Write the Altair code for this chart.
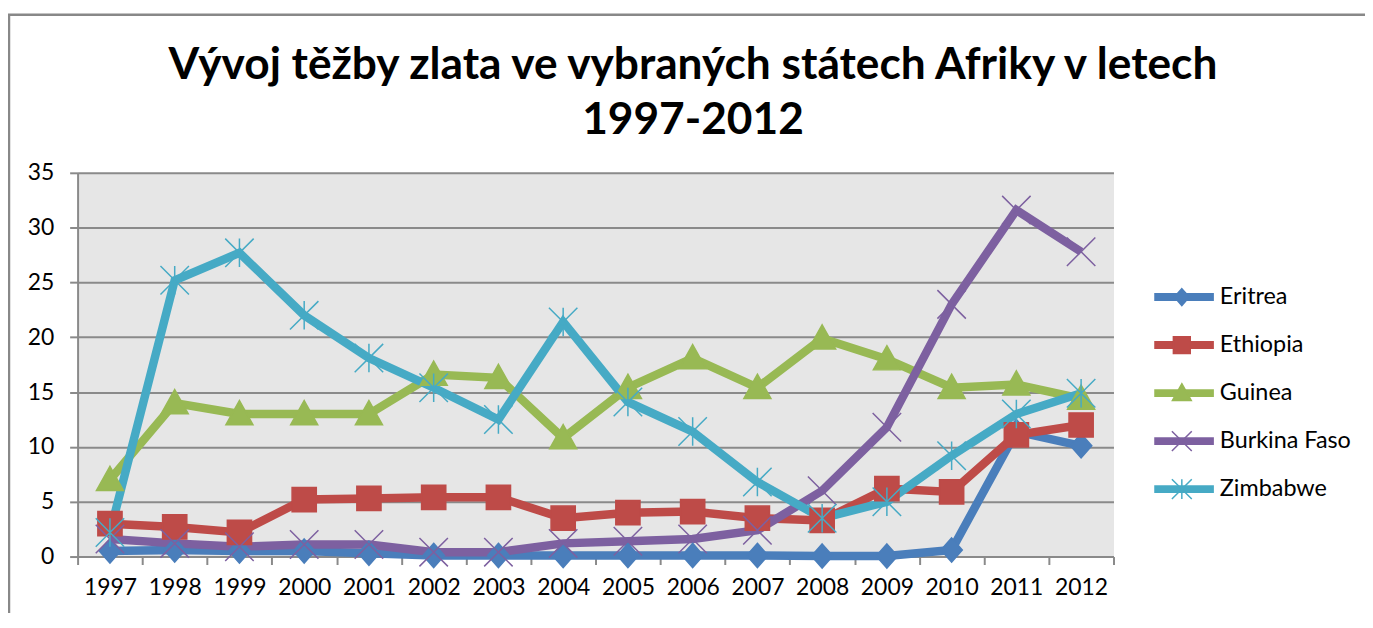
import altair as alt
import pandas as pd

years = ["1997", "1998", "1999", "2000", "2001", "2002", "2003", "2004",
         "2005", "2006", "2007", "2008", "2009", "2010", "2011", "2012"]
countries = ["Eritrea", "Ethiopia", "Guinea", "Burkina Faso", "Zimbabwe"]
marker_keys = ["m-Eritrea", "m-Ethiopia", "m-Guinea", "m-Burkina Faso", "m-Zimbabwe"]

eritrea = [0.5, 0.6, 0.5, 0.5, 0.3, 0.1, 0.1, 0.1, 0.1, 0.1, 0.1, 0.05, 0.05, 0.6, 11.4, 10.1]
ethiopia = [3.0, 2.7, 2.2, 5.2, 5.3, 5.4, 5.4, 3.5, 4.0, 4.1, 3.5, 3.3, 6.2, 5.9, 11.1, 12.0]
guinea = [7.0, 14.0, 13.0, 13.0, 13.0, 16.6, 16.3, 10.8, 15.4, 18.1, 15.4, 19.9, 18.0, 15.4, 15.7, 14.4]
burkina = [1.6, 1.2, 0.9, 1.1, 1.1, 0.4, 0.4, 1.2, 1.4, 1.6, 2.4, 6.0, 11.8, 23.0, 31.6, 27.8]
zimbabwe = [2.2, 25.2, 27.7, 22.0, 18.1, 15.4, 12.5, 21.4, 14.1, 11.4, 6.8, 3.5, 5.0, 9.2, 13.0, 14.9]

series = [eritrea, ethiopia, guinea, burkina, zimbabwe]
colors = ["#4A7EBB", "#BE4B48", "#98B954", "#7D60A0", "#46AAC5"]
shapes = [
    "M0,-0.85L0.75,0L0,0.85L-0.75,0Z",
    "M-0.85,-0.85H0.85V0.85H-0.85Z",
    "M0,-0.95L0.95,0.75L-0.95,0.75Z",
    "M-1,-1L1,1M-1,1L1,-1",
    "M-1,-1L1,1M-1,1L1,-1M0,-1L0,1",
]

rows = []
for c, mk, vals in zip(countries, marker_keys, series):
    for yr, v in zip(years, vals):
        rows.append({"Year": yr, "Value": v, "Country": c, "Marker": mk})
df = pd.DataFrame(rows)

GRID = "#8A8A8A"
FONT = "Lato"

x_enc = alt.X(
    "Year:O", sort=years,
    scale=alt.Scale(type="band", paddingInner=0, paddingOuter=0),
    axis=alt.Axis(title=None, labelAngle=0, tickBand="extent", grid=False,
                  domainColor=GRID, domainWidth=2, tickColor=GRID, tickWidth=2,
                  tickSize=8, labelFont=FONT, labelFontSize=23, labelColor="#000000",
                  labelPadding=12),
)
y_enc = alt.Y(
    "Value:Q",
    scale=alt.Scale(domain=[0, 35]),
    axis=alt.Axis(title=None, values=[0, 5, 10, 15, 20, 25, 30, 35], grid=True,
                  gridColor=GRID, gridWidth=2, domainColor=GRID, domainWidth=2,
                  tickColor=GRID, tickWidth=2, tickSize=8, labelFont=FONT,
                  labelFontSize=23, labelColor="#000000", labelPadding=16),
)

line_legend = alt.Legend(
    title=None, orient="none", legendX=1079, legendY=111, padding=0,
    symbolType="stroke", symbolSize=3600, symbolStrokeWidth=8,
    clipHeight=28, rowPadding=20.3, labelFont=FONT, labelFontSize=23.5,
    labelColor="#000000", labelOffset=2,
)
marker_legend = alt.Legend(
    title=None, orient="none", legendX=1099, legendY=111, padding=0,
    symbolSize=400, symbolStrokeWidth=1.5, symbolOpacity=1,
    clipHeight=28, rowPadding=20.3, labelFontSize=23.5, labelExpr="''",
)

border = alt.Chart(pd.DataFrame({"k": [0]})).mark_rect(
    fill="transparent", stroke="#888888", strokeWidth=2.5
).encode(x=alt.value(-69), x2=alt.value(3000), y=alt.value(-159), y2=alt.value(3000))

base = alt.Chart(df)
lines = base.mark_line(strokeWidth=8.5).encode(
    x=x_enc, y=y_enc,
    color=alt.Color("Country:N", sort=countries,
                    scale=alt.Scale(domain=countries, range=colors), legend=line_legend),
)
points = base.mark_point(filled=True, opacity=1, size=820, strokeWidth=1.5).encode(
    x=x_enc, y=y_enc,
    shape=alt.Shape("Marker:N", sort=marker_keys,
                    scale=alt.Scale(domain=marker_keys, range=shapes), legend=marker_legend),
    fill=alt.Fill("Marker:N", sort=marker_keys,
                  scale=alt.Scale(domain=marker_keys, range=colors), legend=marker_legend),
    stroke=alt.Stroke("Marker:N", sort=marker_keys,
                      scale=alt.Scale(domain=marker_keys, range=colors), legend=marker_legend),
)

chart = alt.layer(border, lines, points).properties(
    width=1042, height=386,
    title=alt.TitleParams(
        text=["Vývoj těžby zlata ve vybraných státech Afriky v letech", "1997-2012"],
        font=FONT, fontSize=44.5, fontWeight="bold", color="#000000",
        anchor="middle", dx=98, offset=0, dy=131, baseline="top", lineHeight=56,
    ),
    padding={"left": 70, "top": 164, "right": 253, "bottom": 55},
    autosize=alt.AutoSizeParams(type="none"),
).configure_view(fill="#E6E6E6", stroke="transparent")

chart.save("out.html", embed_options={"renderer": "svg", "actions": False})
